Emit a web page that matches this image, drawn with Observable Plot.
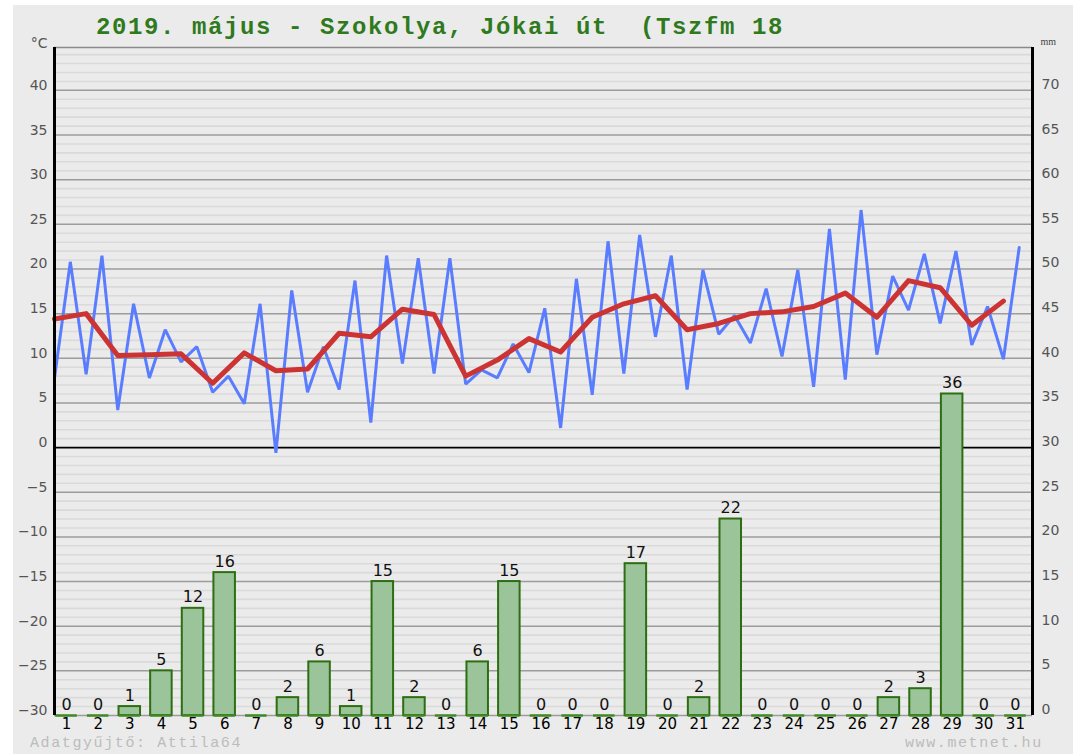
<!DOCTYPE html>
<html><head><meta charset="utf-8">
<script src="https://cdn.jsdelivr.net/npm/d3@7"></script>
<script src="https://cdn.jsdelivr.net/npm/@observablehq/plot@0.6"></script>
<style>
html,body{margin:0;padding:0;background:#fff;width:1073px;height:754px;overflow:hidden}
#panel{position:absolute;left:13px;top:5px;width:1060px;height:749px;background:#ebebeb}
#chart{position:absolute;left:0;top:0}
#title{position:absolute;left:96px;top:16px;font:bold 24px/24px "Liberation Mono",monospace;color:#2e7a1c;letter-spacing:1.6px;white-space:pre}
.foot{position:absolute;top:736px;font:15px/15px "Liberation Mono",monospace;color:#bcbcbc;letter-spacing:1.6px;white-space:pre}
</style></head><body>
<div id="panel"></div>
<div id="chart"></div>
<div id="title"></div>
<div class="foot" id="f1" style="left:30px"></div>
<div class="foot" id="f2" style="left:905px"></div>
<script>
const titleText = "2019. május - Szokolya, Jókai út  (Tszfm 18";
const footLeft = "Adatgyűjtő: Attila64";
const footRight = "www.metnet.hu";

const days = [1,2,3,4,5,6,7,8,9,10,11,12,13,14,15,16,17,18,19,20,21,22,23,24,25,26,27,28,29,30,31];
const tMin = [7.8,8.2,4.2,7.8,9.6,6.2,4.9,-0.6,6.2,6.5,2.8,9.4,8.3,7.1,7.8,8.4,2.2,5.9,8.3,12.4,6.5,12.7,11.7,10.2,6.8,7.6,10.4,15.4,13.9,11.5,9.9];
const tMax = [20.8,21.5,16.1,13.2,11.3,8.0,16.1,17.6,11.3,18.7,21.5,21.2,21.2,8.7,11.6,15.6,18.9,23.1,23.8,21.5,19.9,14.8,17.8,19.9,24.5,26.6,19.2,21.7,22.0,15.8,22.4];
const tMean = [14.4,15.0,10.3,10.4,10.5,7.2,10.6,8.6,8.8,12.8,12.4,15.5,14.9,8.0,9.8,12.2,10.7,14.6,16.1,17.0,13.2,13.9,15.0,15.2,15.8,17.3,14.6,18.7,17.9,13.7,16.4];
const precip = [0,0,1,5,12,16,0,2,6,1,15,2,0,6,15,0,0,0,17,0,2,22,0,0,0,0,2,3,36,0,0];
const tempTicks = [-30,-25,-20,-15,-10,-5,0,5,10,15,20,25,30,35,40];
const mmTickLabels = [0,5,10,15,20,25,30,35,40,45,50,55,60,65,70];

document.getElementById("title").textContent = titleText;
document.getElementById("f1").textContent = footLeft;
document.getElementById("f2").textContent = footRight;

const mmOffset = 30;          // mm = °C + 30
const labelShift = 0.38;      // day label / bar centre relative to the day's start
const barHalf = 0.34;
const halfDay = 0.5;
const xDomain = [1, 31.92];
const yDomain = [-30, 44.8];
const minorGrid = d3.range(-30, 45, 1).filter(v => v % 5 !== 0);
const majorGrid = tempTicks.filter(v => v !== 0);

const bars = days.map((d, i) => ({day: d, p: precip[i]}));
const tempLine = days.flatMap((d, i) => [{x: d, t: tMin[i]}, {x: d + halfDay, t: tMax[i]}]);
const meanLine = days.map((d, i) => ({x: d, t: tMean[i]}));

const green = "#2e6e12";
const chart = Plot.plot({
  width: 1073, height: 754,
  marginLeft: 54, marginRight: 41, marginTop: 47, marginBottom: 39,
  style: {background: "transparent", fontFamily: "DejaVu Sans", overflow: "visible"},
  x: {domain: xDomain, axis: null},
  y: {domain: yDomain, axis: null},
  marks: [
    Plot.ruleY(minorGrid, {stroke: "#dadada", strokeWidth: 1.6}),
    Plot.ruleY(majorGrid, {stroke: "#9c9c9c", strokeWidth: 1.5}),
    Plot.ruleY([yDomain[1]], {stroke: "#8a8a8a", strokeWidth: 1.5}),
    Plot.ruleY([0], {stroke: "#000", strokeWidth: 1.8}),
    Plot.rectY(bars, {x1: d => d.day + labelShift - barHalf, x2: d => d.day + labelShift + barHalf,
      y1: () => 0 - mmOffset, y2: d => d.p - mmOffset, fill: "#9bc49a", stroke: green, strokeWidth: 2}),
    Plot.ruleY(bars, {x1: d => d.day + labelShift - barHalf, x2: d => d.day + labelShift + barHalf,
      y: () => 0 - mmOffset, stroke: "#3f8a25", strokeWidth: 2.5}),
    Plot.text(bars, {x: d => d.day + labelShift, y: d => d.p - mmOffset, text: d => String(d.p),
      lineAnchor: "bottom", dy: -6, fontSize: 16, fill: "#111", fontFamily: "DejaVu Sans"}),
    Plot.line(tempLine, {x: "x", y: "t", stroke: "#5a7dff", strokeWidth: 3, strokeLinejoin: "miter", curve: "linear"}),
    Plot.line(meanLine, {x: "x", y: "t", stroke: "#cc3333", strokeWidth: 5, strokeLinejoin: "round", curve: "linear"}),
    Plot.ruleX([xDomain[0]], {stroke: "#000", strokeWidth: 3}),
    Plot.ruleX([xDomain[1]], {stroke: "#000", strokeWidth: 3}),
    Plot.axisY(tempTicks, {anchor: "left", tickSize: 0, tickPadding: 7, dy: -5, label: null,
      tickFormat: d => (d < 0 ? "\u2212" + Math.abs(d) : String(d)), fontSize: 14, color: "#555"}),
    Plot.axisY(tempTicks, {anchor: "right", tickSize: 0, tickPadding: 9, dy: -6, label: null,
      tickFormat: (d, i) => String(mmTickLabels[i]), fontSize: 14, color: "#555"}),
    Plot.text(days, {x: d => d + labelShift, frameAnchor: "bottom", lineAnchor: "top", dy: 3,
      text: d => String(d), fontSize: 15, fill: "#000", fontFamily: "DejaVu Sans"}),
    Plot.text(["°C"], {frameAnchor: "top-left", textAnchor: "end", lineAnchor: "bottom", dx: -7, dy: 0,
      fontSize: 14, fill: "#555"}),
    Plot.text(["mm"], {frameAnchor: "top-right", textAnchor: "start", lineAnchor: "bottom", dx: 8, dy: -3,
      fontSize: 10, fill: "#444", fontFamily: "Liberation Serif"})
  ]
});
document.getElementById("chart").appendChild(chart);
</script>
</body></html>
